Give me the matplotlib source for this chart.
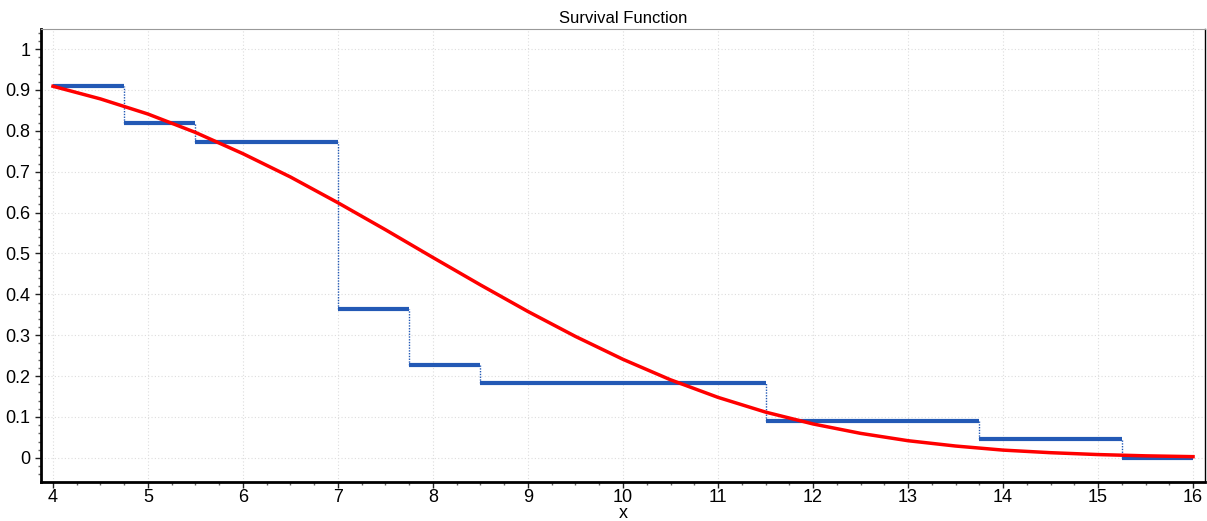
import numpy as np
import matplotlib
matplotlib.use("Agg")
import matplotlib.pyplot as plt
from matplotlib.ticker import MultipleLocator

plt.rcParams['font.family'] = ['Liberation Sans', 'DejaVu Sans']

# empirical survival steps (start, end, level)
step_x = [4.0, 4.75, 5.5, 7.0, 7.75, 8.5, 11.5, 13.75, 15.25, 16.0]
step_y = [0.909, 0.818, 0.773, 0.364, 0.227, 0.182, 0.091, 0.045, 0.0]

# fitted curve
fit_x = [4.0, 4.5, 5.0, 5.5, 6.0, 6.5, 7.0, 7.5, 8.0, 8.5, 9.0, 9.5, 10.0,
         10.5, 11.0, 11.5, 12.0, 12.5, 13.0, 13.5, 14.0, 14.5, 15.0, 15.5, 16.0]
fit_y = [0.909, 0.878, 0.841, 0.796, 0.744, 0.687, 0.624, 0.558, 0.490,
         0.423, 0.358, 0.297, 0.241, 0.191, 0.148, 0.112, 0.083, 0.060,
         0.042, 0.029, 0.019, 0.0127, 0.0081, 0.005, 0.003]

x_ticks = list(range(4, 17))
y_ticks = [0, 0.1, 0.2, 0.3, 0.4, 0.5, 0.6, 0.7, 0.8, 0.9, 1]
y_labels = ['0', '0.1', '0.2', '0.3', '0.4', '0.5', '0.6', '0.7', '0.8', '0.9', '1']

blue = '#2359b5'

fig = plt.figure(figsize=(12.07, 5.21), dpi=100)
ax = fig.add_axes([41 / 1207, 1 - 482 / 521, (1205 - 41) / 1207, (482 - 29) / 521])

# horizontal parts thick, vertical drops thin dotted
ax.hlines(step_y, step_x[:-1], step_x[1:], color=blue, lw=3, zorder=3)
ax.vlines(step_x[1:-1], step_y[1:], step_y[:-1], color=blue, lw=1, ls=(0, (1, 1)), zorder=3)

ax.plot(fit_x, fit_y, color='#ff0000', lw=2.5, zorder=4)

ax.set_xlim(3.874, 16.126)
ax.set_ylim(-0.059, 1.049)
ax.set_xticks(x_ticks)
ax.set_yticks(y_ticks)
ax.set_yticklabels(y_labels)
ax.xaxis.set_minor_locator(MultipleLocator(0.25))
ax.yaxis.set_minor_locator(MultipleLocator(0.02))
ax.tick_params(which='major', length=4, width=1, labelsize=13, colors='#222222', labelcolor='black')
ax.tick_params(axis='x', which='major', pad=1)
ax.tick_params(which='minor', length=2, width=1, colors='#666666')

ax.grid(True, which='major', color='#dddddd', ls=(0, (1, 2)), lw=0.8)

ax.spines['left'].set_linewidth(2)
ax.spines['bottom'].set_linewidth(2)
ax.spines['top'].set_color('#999999')
ax.spines['right'].set_linewidth(1)

ax.set_title('Survival Function', fontsize=12, pad=4)
ax.set_xlabel('x', fontsize=13, labelpad=-1)

fig.savefig('out.png', dpi=100)
